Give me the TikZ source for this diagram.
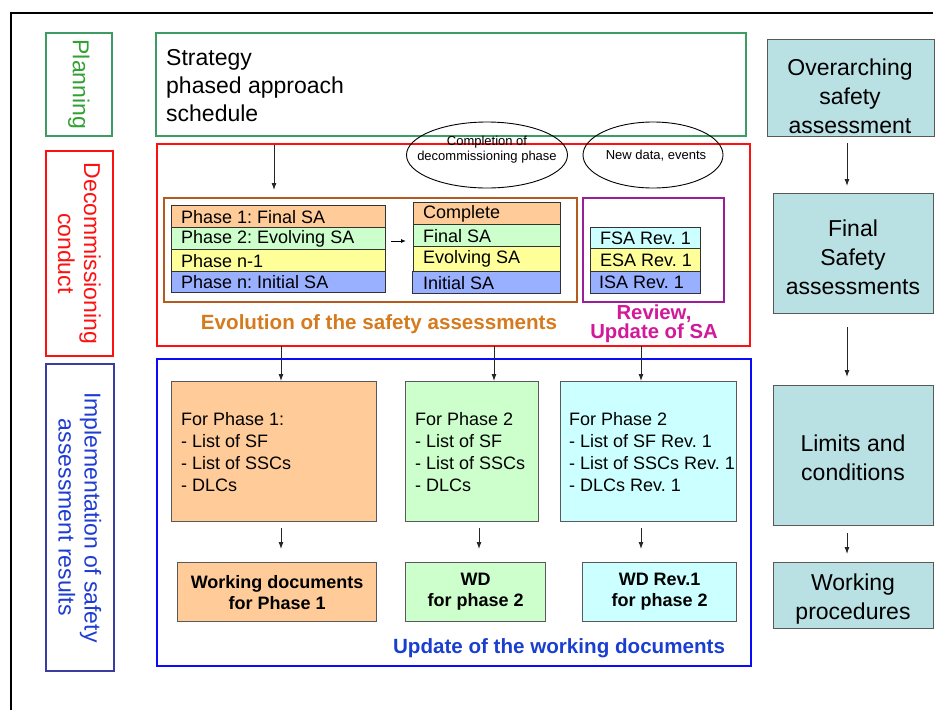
\documentclass[tikz,border=0pt]{standalone}
\usepackage{fontspec}
\setmainfont{Liberation Sans}
\usetikzlibrary{arrows.meta,shapes.geometric}
\definecolor{planG}{HTML}{3C9C64}
\definecolor{planT}{HTML}{33A033}
\definecolor{redF}{HTML}{FF1010}
\definecolor{implB}{HTML}{3C3CA0}
\definecolor{implT}{HTML}{1E3CD2}
\definecolor{blueF}{HTML}{0A0AFF}
\definecolor{brownF}{HTML}{B45A1E}
\definecolor{purpF}{HTML}{9A1E9A}
\definecolor{orFill}{HTML}{FFCC99}
\definecolor{grFill}{HTML}{CCFFCC}
\definecolor{yeFill}{HTML}{FFFF99}
\definecolor{blFill}{HTML}{99AFFF}
\definecolor{cyFill}{HTML}{CCFFFF}
\definecolor{tealFill}{HTML}{B9E0E3}
\definecolor{evoT}{HTML}{D67A1E}
\definecolor{revT}{HTML}{D2199A}
\definecolor{updT}{HTML}{1A3FD0}
\begin{document}
\frenchspacing
\begin{tikzpicture}[x=1pt,y=-1pt,
  frame/.style={draw, line width=1.8pt, anchor=north west, inner sep=0pt},
  rowbox/.style={draw=black!80, line width=1.2pt, anchor=north west, inner sep=0pt},
  rowtxt/.style={anchor=west, inner sep=0pt, font=\fontsize{18}{20}\selectfont},
  midbox/.style={draw=black!65, line width=1.2pt, anchor=north west, inner sep=0pt},
  midtxt/.style={anchor=west, inner sep=0pt, align=left, font=\fontsize{18}{22}\selectfont},
  wdbox/.style={draw=black!65, line width=1.2pt, anchor=north west, inner sep=0pt,
     align=center, font=\fontsize{18}{21}\selectfont\bfseries},
  rbox/.style={draw=black!65, fill=tealFill, line width=1.2pt, anchor=north west, inner sep=0pt},
  rtxt/.style={inner sep=0pt, align=center, font=\fontsize{23}{29}\selectfont},
  vlabel/.style={rotate=-90, align=center, font=\fontsize{23}{26}\selectfont},
  arr/.style={-{Latex[length=7pt,width=5pt]}, line width=0.9pt, black!85},
  ell/.style={draw, ellipse, line width=0.9pt, inner sep=0pt}
]
\useasboundingbox (0,0) rectangle (935,710);
% outer frame
\draw[line width=2pt] (11,710) -- (11,13) -- (933,13);

% left labels
\node[frame, draw=planG, minimum width=66, minimum height=103] (plbox) at (45,32) {};
\node[vlabel, text=planT] (pltxt) at (plbox.center) {Planning};
\node[frame, draw=redF, minimum width=67, minimum height=205] (dcbox) at (45,150) {};
\node[vlabel, text=redF] (dctxt) at (dcbox.center) {Decommissioning\\conduct};
\node[frame, draw=implB, minimum width=68, minimum height=307] (imbox) at (45,363) {};
\node[vlabel, text=implT] (imtxt) at (imbox.center) {Implementation of safety\\assessment results};

% strategy
\node[frame, draw=planG, minimum width=590, minimum height=103] (strat) at (155,32) {};
\node[anchor=west, align=left, font=\fontsize{23}{28}\selectfont, inner sep=0pt] (strtxt) at (166,86) {Strategy\\phased approach\\schedule};

% red box
\node[frame, draw=redF, minimum width=593, minimum height=202] (redbox) at (156,143) {};

% ellipses
\node[ell, minimum width=161, minimum height=66] (el1) at (487,155) {};
\node[font=\fontsize{13}{15}\selectfont, align=center, inner sep=0pt] (el1t) at (487,150) {Completion of\\decommissioning phase};
\node[ell, minimum width=140, minimum height=66] (el2) at (653,155) {};
\node[font=\fontsize{13}{15}\selectfont, inner sep=0pt] (el2t) at (656,156) {New data, events};

% brown box
\node[frame, draw=brownF, minimum width=413, minimum height=104] (brbox) at (163,197) {};
\coordinate (aTop) at (274,145);
\coordinate (aBot) at (274,190);
\draw[arr] (aTop) -- (aBot);

\node[rowbox, fill=orFill, minimum width=214, minimum height=22] (p1) at (171,205) {};
\node[rowtxt] (p1t) at ([xshift=10pt]p1.west) {Phase 1: Final SA};
\node[rowbox, fill=grFill, minimum width=214, minimum height=22] (p2) at (171,227) {};
\node[rowtxt] (p2t) at ([xshift=10pt]p2.west) {Phase 2: Evolving SA};
\node[rowbox, fill=yeFill, minimum width=214, minimum height=22] (p3) at (171,249) {};
\node[rowtxt] (p3t) at ([xshift=10pt]p3.west) {Phase n-1};
\node[rowbox, fill=blFill, minimum width=214, minimum height=21] (p4) at (171,271) {};
\node[rowtxt] (p4t) at ([xshift=10pt]p4.west) {Phase n: Initial SA};

\node[rowbox, fill=orFill, minimum width=147, minimum height=22] (q1) at (413,202) {};
\node[rowtxt] (q1t) at ([xshift=10pt]q1.west) {Complete};
\node[rowbox, fill=grFill, minimum width=147, minimum height=22] (q2) at (413,224) {};
\node[rowtxt] (q2t) at ([xshift=10pt]q2.west) {Final SA};
\node[rowbox, fill=yeFill, minimum width=147, minimum height=25] (q3) at (413,246) {};
\node[rowtxt] (q3t) at ([xshift=10pt]q3.west) {Evolving SA};
\node[rowbox, fill=blFill, minimum width=148, minimum height=22] (q4) at (412,271) {};
\node[rowtxt] (q4t) at ([xshift=11pt]q4.west) {Initial SA};

\coordinate (sa1) at (391,241);
\coordinate (sa2) at (406,241);
\draw[-{Latex[length=5pt,width=4pt]}, line width=0.9pt] (sa1) -- (sa2);

% purple box
\node[frame, draw=purpF, minimum width=141, minimum height=104] (pubox) at (582,197) {};
\node[rowbox, fill=cyFill, minimum width=110, minimum height=21] (r1) at (590,227) {};
\node[rowtxt] (r1t) at ([xshift=10pt]r1.west) {FSA Rev. 1};
\node[rowbox, fill=yeFill, minimum width=110, minimum height=23] (r2) at (590,248) {};
\node[rowtxt] (r2t) at ([xshift=10pt]r2.west) {ESA Rev. 1};
\node[rowbox, fill=blFill, minimum width=110, minimum height=22] (r3) at (590,271) {};
\node[rowtxt] (r3t) at ([xshift=9pt]r3.west) {ISA Rev. 1};

\node[text=evoT, font=\fontsize{20.6}{22}\selectfont\bfseries, inner sep=0pt] (evo) at (379,324) {Evolution of the safety assessments};
\node[text=revT, font=\fontsize{20.3}{19}\selectfont\bfseries, align=center, inner sep=0pt] (rev) at (654,324) {Review,\\Update of SA};

% blue box
\node[frame, draw=blueF, line width=2pt, minimum width=594, minimum height=307] (blbox) at (156,358) {};

% middle boxes
\node[midbox, fill=orFill, minimum width=205, minimum height=140] (m1) at (171,381) {};
\node[midtxt] (m1t) at ([xshift=10pt]m1.west) {For Phase 1:\\- List of SF\\- List of SSCs\\- DLCs};
\node[midbox, fill=grFill, minimum width=133, minimum height=140] (m2) at (405,381) {};
\node[midtxt] (m2t) at ([xshift=10pt]m2.west) {For Phase 2\\- List of SF\\- List of SSCs\\- DLCs};
\node[midbox, fill=cyFill, minimum width=176, minimum height=140] (m3) at (560,381) {};
\node[midtxt] (m3t) at ([xshift=9pt]m3.west) {For Phase 2\\- List of SF Rev. 1\\- List of SSCs Rev. 1\\- DLCs Rev. 1};

\coordinate (t1) at (281,346);
\coordinate (t2) at (494,346);
\coordinate (t3) at (641,346);
\draw[arr] (t1) -- (m1.north -| t1);
\draw[arr] (t2) -- (m2.north -| t2);
\draw[arr] (t3) -- (m3.north -| t3);

% bottom boxes
\node[wdbox, fill=orFill, minimum width=199, minimum height=59] (w1) at (177,562) {Working documents\\for Phase 1};
\node[wdbox, fill=grFill, minimum width=140, minimum height=59] (w2) at (405,562) {WD\\for phase 2};
\node[wdbox, fill=cyFill, minimum width=154, minimum height=59] (w3) at (582,562) {WD Rev.1\\for phase 2};

\coordinate (b1s) at (281,528);
\coordinate (b1e) at (281,549);
\coordinate (b2s) at (479,528);
\coordinate (b2e) at (479,549);
\coordinate (b3s) at (641,528);
\coordinate (b3e) at (641,549);
\draw[arr] (b1s) -- (b1e);
\draw[arr] (b2s) -- (b2e);
\draw[arr] (b3s) -- (b3e);

\node[text=updT, font=\fontsize{20.6}{22}\selectfont\bfseries, inner sep=0pt] (upd) at (559,648) {Update of the working documents};

% right column
\node[rbox, minimum width=167, minimum height=97] (o1) at (767,39) {};
\node[rtxt] (o1t) at (850,96.5) {Overarching\\safety\\assessment};
\node[rbox, minimum width=160, minimum height=120] (o2) at (773,193) {};
\node[rtxt] (o2t) at (853,257.5) {Final\\Safety\\assessments};
\node[rbox, minimum width=160, minimum height=140] (o3) at (773,385) {};
\node[rtxt] (o3t) at (853,458) {Limits and\\conditions};
\node[rbox, minimum width=160, minimum height=66] (o4) at (773,562) {};
\node[rtxt] (o4t) at (853,599.5) {Working\\procedures};

\coordinate (c1s) at (847,143);
\coordinate (c1e) at (847,186);
\coordinate (c2s) at (847,327);
\coordinate (c2e) at (847,377);
\coordinate (c3s) at (847,533);
\coordinate (c3e) at (847,554);
\draw[arr] (c1s) -- (c1e);
\draw[arr] (c2s) -- (c2e);
\draw[arr] (c3s) -- (c3e);
\end{tikzpicture}
\end{document}
